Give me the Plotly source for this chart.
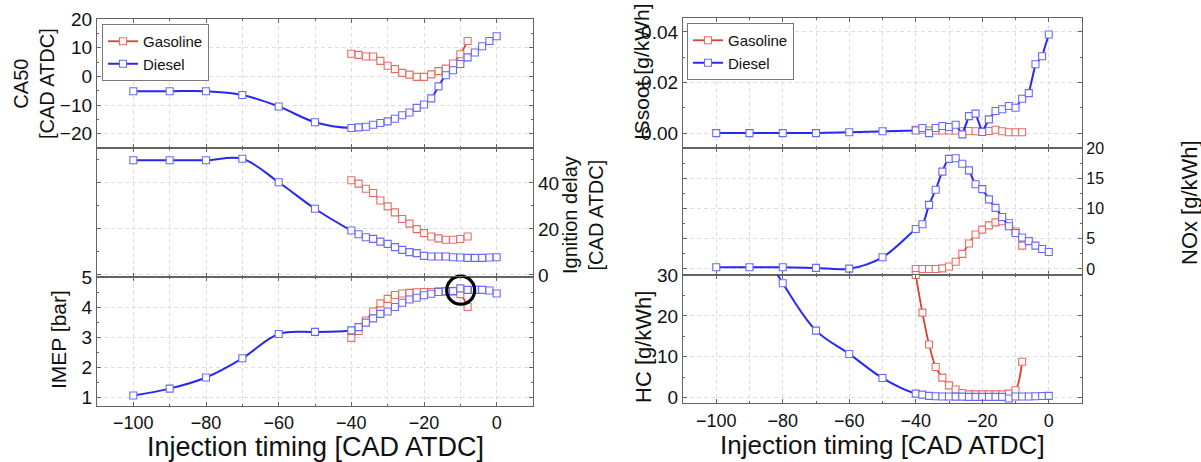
import plotly.graph_objects as go

# ---------------- data ----------------
diesel_x = [-100, -90, -80, -70, -60, -50, -40, -38, -36, -34, -32, -30, -28, -26, -24,
            -22, -20, -18, -16, -14, -12, -10, -8, -6, -4, -2, 0]
gasoline_x = [-40, -38, -36, -34, -32, -30, -28, -26, -24, -22, -20, -18, -16, -14, -12, -10, -8]

ca50_diesel = [-5.2, -5.2, -5.2, -6.5, -10.5, -16.0, -18.0, -17.8, -17.6, -16.9, -16.3, -15.7,
               -14.8, -13.6, -12.6, -11.0, -9.8, -7.7, -3.5, 0.4, 2.1, 4.3, 6.6, 8.3, 10.5, 12.3, 14.0]
ca50_gasoline = [7.9, 7.5, 6.9, 6.9, 5.4, 3.7, 2.5, 1.2, 0.6, -0.2, -0.2, 0.7, 1.8, 2.7, 4.5, 7.7, 12.3]

igd_diesel = [49.9, 49.9, 49.9, 50.5, 40.3, 28.8, 19.3, 17.7, 16.4, 15.7, 14.5, 13.5, 12.1, 10.9,
              9.9, 9.5, 8.3, 8.0, 8.0, 8.0, 7.7, 7.6, 7.4, 7.4, 7.4, 7.6, 7.7]
igd_gasoline = [41.2, 39.7, 37.5, 35.6, 32.4, 29.8, 27.2, 24.3, 22.3, 19.9, 18.2, 16.7, 15.9,
                15.3, 15.3, 15.6, 16.7]

imep_diesel = [1.05, 1.28, 1.65, 2.29, 3.1, 3.17, 3.22, 3.33, 3.48, 3.62, 3.77, 3.85, 4.0, 4.14,
               4.25, 4.31, 4.39, 4.44, 4.5, 4.52, 4.53, 4.62, 4.57, 4.57, 4.57, 4.55, 4.45]
imep_gasoline = [2.97, 3.2, 3.55, 3.85, 4.12, 4.27, 4.4, 4.45, 4.47, 4.49, 4.5, 4.5, 4.52, 4.52,
                 4.52, 4.43, 4.0]

soot_diesel = [0.0, 0.0, 0.0, 0.0, 0.0003, 0.0007, 0.001, 0.002, 0.0, 0.002, 0.0028, 0.0024,
               0.0033, -0.0005, 0.0067, 0.0077, 0.0004, 0.0054, 0.0087, 0.0094, 0.0107, 0.010,
               0.0136, 0.0158, 0.0272, 0.0304, 0.039]
soot_gasoline = [0.0013, 0.0013, 0.001, 0.001, 0.001, 0.001, 0.001, 0.0007, 0.0008, 0.0007,
                 0.0007, 0.0008, 0.0013, 0.0007, 0.0003, 0.0003, 0.0003]

nox_diesel = [0.28, 0.28, 0.28, 0.17, 0.05, 1.93, 6.6, 7.4, 10.6, 13.1, 16.1, 18.2, 18.3, 17.4,
              16.3, 14.0, 13.2, 11.5, 10.1, 8.6, 7.05, 5.95, 5.2, 4.6, 3.86, 3.3, 2.8]
nox_gasoline = [0.0, 0.0, 0.0, 0.0, 0.1, 0.4, 1.2, 2.5, 4.2, 5.7, 6.5, 7.2, 7.7, 7.9, 7.6, 6.2, 3.86]

hc_diesel = [58.0, 42.0, 28.0, 16.4, 10.7, 4.8, 1.0, 0.75, 0.45, 0.35, 0.3, 0.3, 0.25, 0.25,
             0.2, 0.2, 0.2, 0.2, 0.2, 0.2, -0.2, 0.3, 0.3, 0.3, 0.35, 0.4, 0.45]
hc_gasoline = [30.0, 20.8, 13.0, 7.5, 4.9, 3.0, 2.0, 1.15, 0.8, 0.8, 0.8, 0.8, 0.8, 0.8, 1.0, 1.8, 8.8]

highlight_x = [-9.9]
highlight_imep = [4.56]

# ---------------- styling ----------------
W, H = 1201, 462
FONT = "Liberation Sans, Arial, sans-serif"
RED_LINE = "rgb(222,64,52)"
RED_MK = "rgb(232,110,100)"
BLUE_LINE = "rgb(40,40,245)"
BLUE_MK = "rgb(105,105,255)"
AXIS_COL = "rgb(100,100,100)"
GRID_COL = "rgb(222,222,222)"
DASH = "4px,3px"

def px2x(px):
    return px / W

def px2y(py):
    return 1 - py / H

fig = go.Figure()

def add_pair(xa, ya, yd, yg, shape, legend=None, show=False, clip_diesel=False):
    fig.add_trace(go.Scatter(
        x=gasoline_x, y=yg, xaxis=xa, yaxis=ya, name="Gasoline", mode="lines+markers",
        line=dict(color=RED_LINE, width=1.8, shape=shape),
        marker=dict(symbol="square", size=7, color="white", line=dict(color=RED_MK, width=1.1)),
        showlegend=show, legend=legend, cliponaxis=False))
    fig.add_trace(go.Scatter(
        x=diesel_x, y=yd, xaxis=xa, yaxis=ya, name="Diesel", mode="lines+markers",
        line=dict(color=BLUE_LINE, width=2, shape=shape),
        marker=dict(symbol="square", size=7, color="white", line=dict(color=BLUE_MK, width=1.1)),
        showlegend=show, legend=legend, cliponaxis=clip_diesel))

add_pair("x", "y", ca50_diesel, ca50_gasoline, "spline", legend="legend", show=True)
add_pair("x2", "y2", igd_diesel, igd_gasoline, "spline")
add_pair("x3", "y3", imep_diesel, imep_gasoline, "spline")
add_pair("x4", "y4", soot_diesel, soot_gasoline, "linear", legend="legend2", show=True)
add_pair("x5", "y5", nox_diesel, nox_gasoline, "spline")
add_pair("x6", "y6", hc_diesel, hc_gasoline, "spline", clip_diesel=True)

fig.add_trace(go.Scatter(
    x=highlight_x, y=highlight_imep, xaxis="x3", yaxis="y3", mode="markers",
    marker=dict(symbol="circle-open", size=28, color="black", line=dict(color="black", width=3.2)),
    showlegend=False, cliponaxis=False, hoverinfo="skip"))

LEFT_DOM = [px2x(97), px2x(533)]
RIGHT_DOM = [px2x(683), px2x(1082)]

def xaxis(dom, anchor, labels, size=19, standoff=0):
    return dict(domain=dom, anchor=anchor, range=[-110, 10], dtick=20, tick0=0,
                automargin=False,
                showline=True, linecolor=AXIS_COL, linewidth=1.3, mirror="ticks",
                ticks="inside", ticklen=4, tickcolor=AXIS_COL,
                showticklabels=labels, tickfont=dict(size=size, color="#111"),
                ticklabelstandoff=standoff,
                showgrid=True, gridcolor=GRID_COL, griddash=DASH, gridwidth=1,
                minor=dict(dtick=10, showgrid=True, gridcolor=GRID_COL, griddash=DASH,
                           ticks="inside", ticklen=2, tickcolor=AXIS_COL),
                zeroline=False)

def yaxis(dom, anchor, rng, dtick, mdtick, side="left", size=19, fmt=None):
    d = dict(domain=dom, anchor=anchor, range=rng, dtick=dtick, side=side,
             automargin=False,
             showline=True, linecolor=AXIS_COL, linewidth=1.3, mirror="ticks",
             ticks="inside", ticklen=4, tickcolor=AXIS_COL,
             tickfont=dict(size=size, color="#111"),
             showgrid=True, gridcolor=GRID_COL, griddash=DASH, gridwidth=1,
             minor=dict(dtick=mdtick, ticks="inside", ticklen=2, tickcolor=AXIS_COL, showgrid=False),
             zeroline=False)
    if fmt:
        d["tickformat"] = fmt
    return d

fig.update_layout(
    template="none",
    width=W, height=H, margin=dict(l=0, r=0, t=0, b=0, pad=0),
    paper_bgcolor="white", plot_bgcolor="white",
    font=dict(family=FONT, color="#111"),
    xaxis=xaxis(LEFT_DOM, "y", False),
    xaxis2=xaxis(LEFT_DOM, "y2", False),
    xaxis3=xaxis(LEFT_DOM, "y3", True, size=18, standoff=0),
    xaxis4=xaxis(RIGHT_DOM, "y4", False),
    xaxis5=xaxis(RIGHT_DOM, "y5", False),
    xaxis6=xaxis(RIGHT_DOM, "y6", True, size=18, standoff=1),
    yaxis=yaxis([px2y(148), px2y(19)], "x", [-25, 20], 10, 5),
    yaxis2=yaxis([px2y(277), px2y(148)], "x2", [-0.9, 55.2], 20, 10, side="right"),
    yaxis3=yaxis([px2y(406), px2y(277)], "x3", [0.7, 5.0], 1, 0.5),
    yaxis4=yaxis([px2y(148), px2y(18)], "x4", [-0.0059, 0.0455], 0.02, 0.01, size=19, fmt=".2f"),
    yaxis5=yaxis([px2y(275), px2y(148)], "x5", [-1, 20], 5, 2.5, side="right", size=16),
    yaxis6=yaxis([px2y(403), px2y(275)], "x6", [-1.3, 30], 10, 5, size=19),
    legend=dict(x=px2x(102), y=px2y(24), xanchor="left", yanchor="top",
                bgcolor="white", bordercolor="rgb(120,120,120)", borderwidth=1,
                font=dict(size=15, color="#111"), tracegroupgap=0),
    legend2=dict(x=px2x(687), y=px2y(23), xanchor="left", yanchor="top",
                 bgcolor="white", bordercolor="rgb(120,120,120)", borderwidth=1,
                 font=dict(size=15, color="#111"), tracegroupgap=0),
)

def title(text, px, py, size, angle=-90):
    fig.add_annotation(text=text, x=px2x(px), y=px2y(py), xref="paper", yref="paper",
                       xanchor="center", yanchor="middle", showarrow=False, textangle=angle,
                       font=dict(size=size, family=FONT, color="#111"))

title("CA50<br>[CAD ATDC]", 34, 84, 20)
title("Ignition delay<br>[CAD ATDC]", 583, 215, 20)
title("IMEP [bar]", 58, 340, 21)
title("ISsoot [g/kWh]", 641, 72, 21)
title("NOx [g/kWh]", 1189, 203, 22)
title("HC [g/kWh]", 643, 347, 22)
title("Injection timing [CAD ATDC]", 315, 446.5, 27, angle=0)
title("Injection timing [CAD ATDC]", 882, 445, 26, angle=0)

fig.write_html("out.html")
